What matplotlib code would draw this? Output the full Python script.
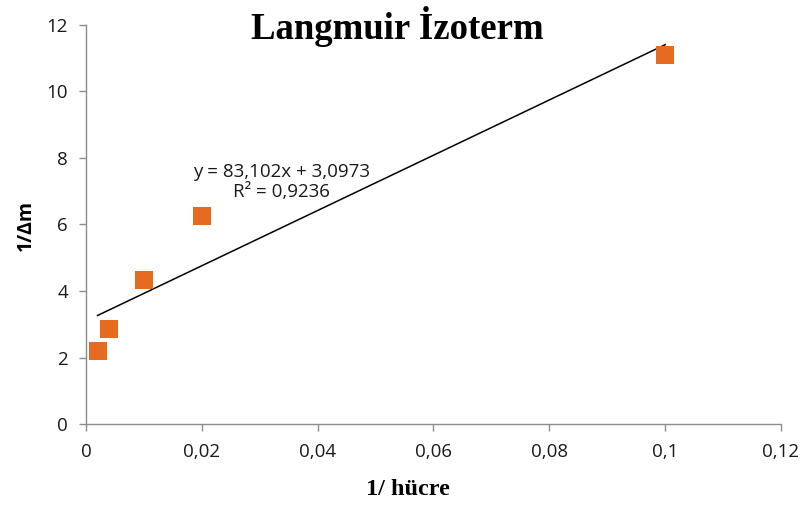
import numpy as np
import matplotlib
matplotlib.use('Agg')
from matplotlib import pyplot as plt

# veri
x_vals = [0.002, 0.004, 0.01, 0.02, 0.1]
y_vals = [2.2, 2.86, 4.33, 6.26, 11.1]
slope, intercept = 83.102, 3.0973
x_ticks = [0, 0.02, 0.04, 0.06, 0.08, 0.10, 0.12]
x_labels = ['0', '0,02', '0,04', '0,06', '0,08', '0,1', '0,12']
y_ticks = [0, 2, 4, 6, 8, 10, 12]

fig = plt.figure(figsize=(8.02, 5.07), dpi=100)
ax = fig.add_axes([0.1072, 0.1637, 0.8666, 0.787])

ax.scatter(x_vals, y_vals, marker='s', s=160, color='#E46B1F', zorder=3, linewidths=0)

# trend çizgisi
xl = np.array([min(x_vals), max(x_vals)])
ax.plot(xl, slope * xl + intercept, color='black', lw=1.1, zorder=2)

ax.set_xlim(0, 0.12)
ax.set_ylim(0, 12)
ax.set_xticks(x_ticks)
ax.set_xticklabels(x_labels)
ax.set_yticks(y_ticks)

for s in ['top', 'right']:
    ax.spines[s].set_visible(False)
for s in ['left', 'bottom']:
    ax.spines[s].set_color('#8c8c8c')
    ax.spines[s].set_linewidth(1.0)
ax.tick_params(colors='#8c8c8c', length=5, width=1.0, labelcolor='#1a1a1a',
               labelsize=13.5)
ax.tick_params(axis='x', pad=9)
ax.tick_params(axis='y', pad=8)
for lab in ax.get_xticklabels() + ax.get_yticklabels():
    lab.set_fontfamily('Open Sans')

ax.text(0.0337, 7.28, 'y = 83,102x + 3,0973\nR² = 0,9236', ha='center', va='center',
        fontsize=13.5, family='Open Sans', color='#1a1a1a', linespacing=1.15)

fig.text(0.495, 0.947, 'Langmuir İzoterm', ha='center', va='center',
         fontsize=26.5, fontweight='bold', family='Liberation Serif')
fig.text(0.032, 0.556, '1/Δm', ha='center', va='center', rotation=90,
         fontsize=14, fontweight='bold', family='Open Sans')
fig.text(0.509, 0.034, '1/ hücre', ha='center', va='center',
         fontsize=17.5, fontweight='bold', family='Liberation Serif')

fig.savefig('out.png', dpi=100)
